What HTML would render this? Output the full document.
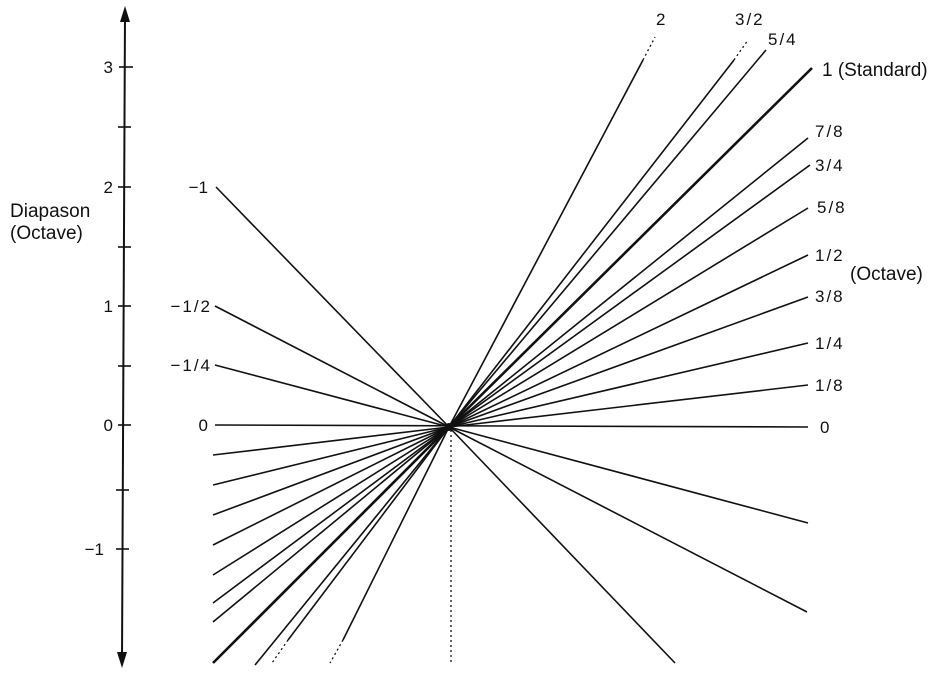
<!DOCTYPE html>
<html><head><meta charset="utf-8"><style>
html,body{margin:0;padding:0;background:#fff;}
svg{display:block;}
text{font-family:"Liberation Sans",sans-serif;font-size:17px;fill:#111;}
.f{letter-spacing:2px;}
.w{font-size:19px;}
</style></head><body>
<svg width="948" height="675" viewBox="0 0 948 675" xmlns="http://www.w3.org/2000/svg">
<g stroke="#111" fill="none" stroke-width="1.6">
<line x1="125" y1="14" x2="122" y2="660" stroke-width="2"/>
<line x1="119" y1="67" x2="133" y2="67"/>
<line x1="118" y1="127" x2="131" y2="127"/>
<line x1="118" y1="187" x2="131" y2="187"/>
<line x1="118" y1="247" x2="131" y2="247"/>
<line x1="118" y1="306" x2="131" y2="306"/>
<line x1="118" y1="366" x2="131" y2="366"/>
<line x1="118" y1="425" x2="131" y2="425"/>
<line x1="116" y1="490" x2="129" y2="490"/>
<line x1="116" y1="549" x2="129" y2="549"/>
<line x1="449" y1="427" x2="643" y2="60"/>
<line x1="449" y1="427" x2="734" y2="60"/>
<line x1="449" y1="427" x2="766" y2="50"/>
<line x1="449" y1="427" x2="812" y2="68" stroke-width="2.6"/>
<line x1="449" y1="427" x2="808" y2="138"/>
<line x1="449" y1="427" x2="810" y2="165"/>
<line x1="449" y1="427" x2="808" y2="208"/>
<line x1="449" y1="427" x2="808" y2="255"/>
<line x1="449" y1="427" x2="808" y2="297"/>
<line x1="449" y1="427" x2="808" y2="343"/>
<line x1="449" y1="427" x2="808" y2="385"/>
<line x1="215" y1="425" x2="808" y2="427"/>
<line x1="449" y1="427" x2="808" y2="523"/>
<line x1="449" y1="427" x2="807" y2="612"/>
<line x1="449" y1="427" x2="675" y2="663"/>
<line x1="449" y1="427" x2="216" y2="187"/>
<line x1="449" y1="427" x2="215" y2="306"/>
<line x1="449" y1="427" x2="215" y2="365"/>
<line x1="449" y1="427" x2="213" y2="455"/>
<line x1="449" y1="427" x2="213" y2="485"/>
<line x1="449" y1="427" x2="213" y2="515"/>
<line x1="449" y1="427" x2="213" y2="545"/>
<line x1="449" y1="427" x2="213" y2="575"/>
<line x1="449" y1="427" x2="213" y2="603"/>
<line x1="449" y1="427" x2="213" y2="622"/>
<line x1="449" y1="427" x2="213" y2="663" stroke-width="2.6"/>
<line x1="449" y1="427" x2="255" y2="665"/>
<line x1="449" y1="427" x2="288" y2="640"/>
<line x1="449" y1="427" x2="343" y2="640"/>
<g stroke-dasharray="2 3" stroke-width="1.3">
<line x1="643" y1="60" x2="655" y2="37"/>
<line x1="734" y1="60" x2="748" y2="40"/>
<line x1="288" y1="640" x2="272" y2="663"/>
<line x1="343" y1="640" x2="330" y2="663"/>
<line x1="451" y1="430" x2="451" y2="662"/>
</g>
</g>
<polygon points="125,6 120,22 130,22" fill="#111"/>
<polygon points="122,668 117,652 127,652" fill="#111"/>
<circle cx="449" cy="427" r="4" fill="#111"/>
<text x="113" y="73" text-anchor="end">3</text>
<text x="113" y="193" text-anchor="end">2</text>
<text x="113" y="312" text-anchor="end">1</text>
<text x="113" y="431" text-anchor="end">0</text>
<text x="104" y="555" text-anchor="end">−1</text>
<text class="w" x="10" y="217">Diapason</text>
<text class="w" x="10" y="239">(Octave)</text>
<text x="208" y="193" text-anchor="end">−1</text>
<text class="f" x="212" y="312" text-anchor="end">−1/2</text>
<text class="f" x="212" y="371" text-anchor="end">−1/4</text>
<text x="208" y="431" text-anchor="end">0</text>
<text x="656" y="25">2</text>
<text class="f" x="735" y="25">3/2</text>
<text class="f" x="768" y="45">5/4</text>
<text class="w" x="822" y="76">1 (Standard)</text>
<text class="f" x="815" y="137">7/8</text>
<text class="f" x="815" y="171">3/4</text>
<text class="f" x="817" y="213">5/8</text>
<text class="f" x="815" y="261">1/2</text>
<text class="w" x="850" y="280">(Octave)</text>
<text class="f" x="815" y="302">3/8</text>
<text class="f" x="815" y="349">1/4</text>
<text class="f" x="815" y="391">1/8</text>
<text x="820" y="433">0</text>
</svg>
</body></html>
